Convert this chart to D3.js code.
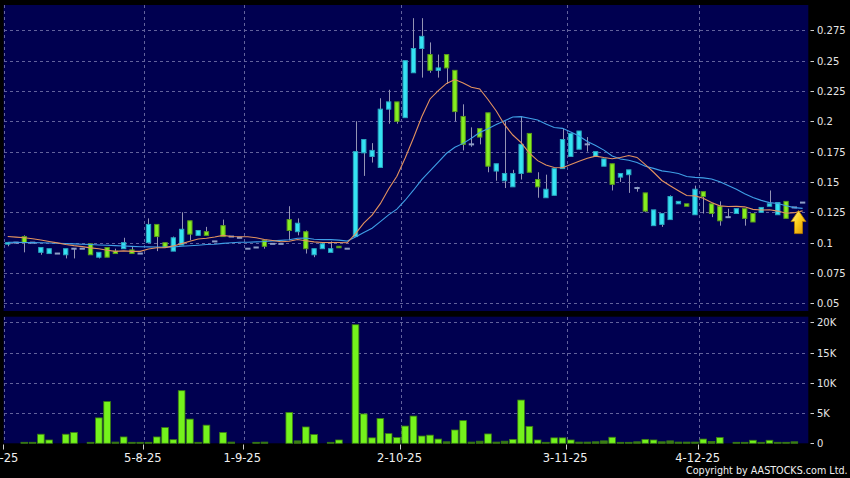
<!DOCTYPE html>
<html><head><meta charset="utf-8">
<script src="https://cdn.jsdelivr.net/npm/d3@7"></script>
<style>html,body{margin:0;padding:0;background:#000;overflow:hidden}</style>
</head><body><svg id="c" width="850" height="478"></svg>
<script>
// ---- data ----
const opens  = [.099,.100,.105,.100,.092,.091,.091,.090,.095,.095,.099,.088,.096,.093,.095,.094,.091,.100,.115,.100,
                .093,.098,.118,.106,.109,.101,.114,.105,.104,.095,.096,.102,.099,.099,.119,.109,.109,.090,.095,.092,
                .097,.095,.105,.174,.171,.162,.210,.216,.203,.240,.260,.255,.242,.255,.242,.204,.181,.194,.207,.159,
                .151,.146,.157,.190,.152,.137,.139,.161,.171,.177,.181,.171,.163,.165,.154,.156,.145,.141,.114,.115,
                .119,.132,.132,.123,.142,.132,.130,.121,.124,.128,.124,.125,.130,.123,.134,.129,.133];
const highs  = [.100,.100,.106,.100,.096,.095,.091,.095,.095,.095,.099,.092,.096,.095,.104,.097,.091,.120,.115,.100,
                .105,.125,.118,.110,.113,.101,.119,.105,.104,.095,.096,.102,.099,.099,.130,.120,.110,.095,.100,.101,
                .097,.095,.200,.185,.182,.219,.226,.216,.250,.285,.285,.265,.255,.255,.242,.214,.195,.194,.207,.165,
                .200,.160,.204,.190,.158,.156,.161,.194,.190,.192,.187,.175,.169,.165,.157,.160,.146,.141,.127,.124,
                .139,.134,.132,.147,.142,.132,.134,.128,.128,.128,.124,.129,.143,.133,.134,.129,.133];
const lows   = [.097,.100,.092,.100,.090,.091,.091,.087,.087,.095,.090,.087,.088,.091,.095,.091,.091,.100,.093,.096,
                .093,.098,.102,.106,.106,.101,.105,.105,.104,.095,.096,.095,.099,.099,.102,.106,.091,.088,.095,.092,
                .096,.095,.105,.155,.166,.162,.198,.198,.203,.240,.236,.240,.236,.231,.200,.176,.179,.181,.158,.151,
                .145,.146,.152,.158,.137,.137,.139,.161,.171,.177,.175,.171,.163,.143,.150,.141,.142,.125,.114,.113,
                .119,.132,.130,.123,.124,.121,.114,.121,.124,.114,.117,.125,.130,.123,.120,.129,.133];
const closes = [.100,.100,.100,.100,.096,.095,.091,.095,.095,.095,.090,.092,.088,.091,.100,.091,.091,.115,.105,.096,
                .104,.111,.107,.110,.106,.101,.105,.105,.104,.095,.096,.097,.099,.099,.110,.116,.095,.095,.099,.095,
                .096,.095,.175,.185,.176,.210,.216,.200,.250,.260,.270,.242,.244,.244,.208,.181,.181,.187,.163,.165,
                .157,.157,.181,.158,.146,.144,.161,.185,.190,.192,.181,.175,.169,.148,.157,.160,.145,.126,.127,.124,
                .138,.134,.130,.144,.138,.124,.118,.121,.128,.120,.117,.129,.132,.133,.120,.129,.133];
// volume in thousands of shares
const volumes = [0,0,0.15,0.15,1.5,0.55,0,1.5,1.8,0,0.1,4.2,6.9,0.2,1.05,0.1,0.15,0.05,1.05,2.6,
                 0.6,8.7,4.0,0.05,3.0,0,1.8,0.2,0,0,0.15,0.2,0,0,5.1,0.4,2.7,1.45,0,0.15,
                 0.55,0,19.6,4.85,0.9,4.1,1.6,0.95,2.85,4.5,1.2,1.35,0.7,0.25,2.2,3.75,0.2,0.35,1.55,0.2,
                 0.35,0.65,7.15,2.8,0.55,0.1,0.9,0.9,0.55,0.2,0.2,0.25,0.4,1.0,0.1,0.05,0.25,0.65,0.55,0.25,
                 0.4,0.2,0.2,0.2,0.7,0.3,0.95,0,0.1,0.1,0.5,0.05,0.5,0.15,0.1,0.25,0];
// moving-average values read off the picture where earlier history is not shown
const ma10Head = [.1050,.1045,.1040,.1032,.1022,.1010,.0998,.0985,.0975];
const ma20Head = [.1003,.1002,.1001,.1000,.0999,.0997,.0995,.0993,.0990,.0987,.0984,.0981,.0978,.0975,.0972,.0969,.0966,.0965,.0964];
const priceTicks = [0.05,0.075,0.1,0.125,0.15,0.175,0.2,0.225,0.25,0.275];
const priceTickLabels = ["0.05","0.075","0.1","0.125","0.15","0.175","0.2","0.225","0.25","0.275"];
const volTicks = [0,5,10,15,20];
const volTickLabels = ["0","5K","10K","15K","20K"];
const monthTickIdx = [0,17,29,48,68,84];
const monthTickLabels = ["2-7-25","5-8-25","1-9-25","2-10-25","3-11-25","4-12-25"];

// ---- layout ----
const L = 3.6, R = 808.3;
const pTop = 5, pBot = 311, vTop = 316.7, vBot = 443.3;
const n = closes.length;
const svg = d3.select("#c");
svg.append("rect").attr("width",850).attr("height",478).attr("fill","#000");

const x = d3.scaleBand().domain(d3.range(n)).range([L, L + 8.28*n]).paddingInner(0).paddingOuter(0);
const bw = x.bandwidth();
const cx = i => x(i) + bw/2;
const y = d3.scaleLinear().domain([0.05,0.275]).range([303.3,30.3]);
const yv = d3.scaleLinear().domain([0,20]).range([vBot,322.3]);

const panelFill = "#000050", gridCol = "#62629c";
svg.append("rect").attr("x",L).attr("y",pTop).attr("width",R-L).attr("height",pBot-pTop).attr("fill",panelFill);
svg.append("rect").attr("x",L).attr("y",vTop).attr("width",R-L).attr("height",vBot-vTop).attr("fill",panelFill);

const grid = svg.append("g").attr("stroke",gridCol).attr("stroke-width",1).attr("stroke-dasharray","3,3").attr("shape-rendering","crispEdges");
priceTicks.forEach(t => grid.append("line").attr("x1",L).attr("x2",R-1).attr("y1",Math.round(y(t))+0.5).attr("y2",Math.round(y(t))+0.5));
volTicks.filter(t=>t>0).forEach(t => grid.append("line").attr("x1",L).attr("x2",R-1).attr("y1",Math.round(yv(t))+0.5).attr("y2",Math.round(yv(t))+0.5));
monthTickIdx.forEach(i => {
  const xx = Math.round(x(i))+0.5;
  grid.append("line").attr("x1",xx).attr("x2",xx).attr("y1",pTop).attr("y2",pBot);
  grid.append("line").attr("x1",xx).attr("x2",xx).attr("y1",vTop).attr("y2",vBot);
});

// right axes
const axTxt = svg.append("g").attr("font-family","DejaVu Sans, Verdana, sans-serif").attr("font-size","10px").attr("fill","#e6e6e6");
priceTicks.forEach((t,k) => {
  const yy = Math.round(y(t))+0.5;
  svg.append("line").attr("x1",810.5).attr("x2",814).attr("y1",yy).attr("y2",yy).attr("stroke","#cfcfcf");
  axTxt.append("text").attr("x",817).attr("y",yy).attr("dy","0.36em").text(priceTickLabels[k]);
});
volTicks.forEach((t,k) => {
  const yy = Math.round(yv(t))+0.5;
  svg.append("line").attr("x1",810.5).attr("x2",814).attr("y1",yy).attr("y2",yy).attr("stroke","#cfcfcf");
  axTxt.append("text").attr("x",817).attr("y",yy).attr("dy","0.36em").text(volTickLabels[k]);
});

// candles
const cyan = "#35e3f3", cyanS = "#2aa6c0", green = "#86ee20", greenS = "#5a9a1c", flatC = "#8e9ec6", wickC = "#9494b4";
const cg = svg.append("g");
d3.range(n).forEach(i => {
  const o = opens[i], c = closes[i], h = highs[i], l = lows[i];
  const xc = Math.round(cx(i)) + 0.5;
  if (h > l) cg.append("line").attr("x1",xc).attr("x2",xc).attr("y1",y(h)).attr("y2",y(l)).attr("stroke",wickC).attr("stroke-width",1);
  const bodyW = bw*0.64;
  if (o === c) {
    cg.append("rect").attr("x",cx(i)-bodyW/2).attr("y",y(c)-1).attr("width",bodyW).attr("height",2).attr("fill",flatC);
  } else {
    const up = c > o;
    const top = y(Math.max(o,c)), bot = y(Math.min(o,c));
    cg.append("rect").attr("x",cx(i)-bodyW/2+0.5).attr("y",top).attr("width",bodyW-1).attr("height",Math.max(1.5,bot-top))
      .attr("fill",up?cyan:green).attr("stroke",up?cyanS:greenS).attr("stroke-width",1);
  }
});

// moving averages
const ma10 = d3.range(n).map(i => i >= 9 ? d3.mean(closes.slice(i-9,i+1)) : ma10Head[i]);
const ma20 = d3.range(n).map(i => i >= 19 ? d3.mean(closes.slice(i-19,i+1)) : ma20Head[i]);
const line = d3.line().x((d,i)=>cx(i)).y(d=>y(d));
svg.append("path").datum(ma20).attr("d",line).attr("fill","none").attr("stroke","#3f9fe6").attr("stroke-width",1.1);
svg.append("path").datum(ma10).attr("d",line).attr("fill","none").attr("stroke","#e3925f").attr("stroke-width",1.1);

// volume bars
svg.append("g").selectAll("rect").data(volumes).join("rect")
  .attr("x",(d,i)=>x(i)+0.8).attr("width",bw-1.6)
  .attr("y",d=>Math.min(yv(d), vBot-1)).attr("height",d=>Math.max(1, vBot - yv(d)))
  .attr("fill",d=>d>0.4?"#74f21c":"#3d7f14").attr("stroke","#3a7d12").attr("stroke-width",0.8)
  .attr("display",d=>d>0?null:"none");

// x axis ticks
const xt = svg.append("g").attr("font-family","DejaVu Sans, Verdana, sans-serif").attr("font-size","11.5px").attr("fill","#f0f0f0").attr("text-anchor","middle");
monthTickIdx.forEach((i,k) => {
  const xx = Math.round(x(i))-0.5;
  svg.append("line").attr("x1",xx).attr("x2",xx).attr("y1",444.5).attr("y2",449.5).attr("stroke","#cfcfcf");
  xt.append("text").attr("x",k===0 ? x(i)-4 : x(i)-1.5).attr("y",462).text(monthTickLabels[k]);
});

// last-price arrow
const defs = svg.append("defs");
const gr = defs.append("linearGradient").attr("id","ag").attr("x1","0").attr("y1","0").attr("x2","1").attr("y2","1");
gr.append("stop").attr("offset","0").attr("stop-color","#fff5a0");
gr.append("stop").attr("offset","0.45").attr("stop-color","#ffd21e");
gr.append("stop").attr("offset","1").attr("stop-color","#d98e00");
const ax = (cx(n-2)+cx(n-1))/2, ay = y(closes[n-1]) + 8;
svg.append("path")
  .attr("d",`M${ax},${ay} L${ax+7.5},${ay+11} L${ax+4},${ay+11} L${ax+4},${ay+23} L${ax-4},${ay+23} L${ax-4},${ay+11} L${ax-7.5},${ay+11} Z`)
  .attr("fill","url(#ag)").attr("stroke","#b67a00").attr("stroke-width",0.8);

svg.append("text").attr("x",686).attr("y",474).attr("font-family","DejaVu Sans, Verdana, sans-serif").attr("font-size","9.6px").attr("fill","#f0f0f0")
  .text("Copyright by AASTOCKS.com Ltd.");
</script>
</body></html>
